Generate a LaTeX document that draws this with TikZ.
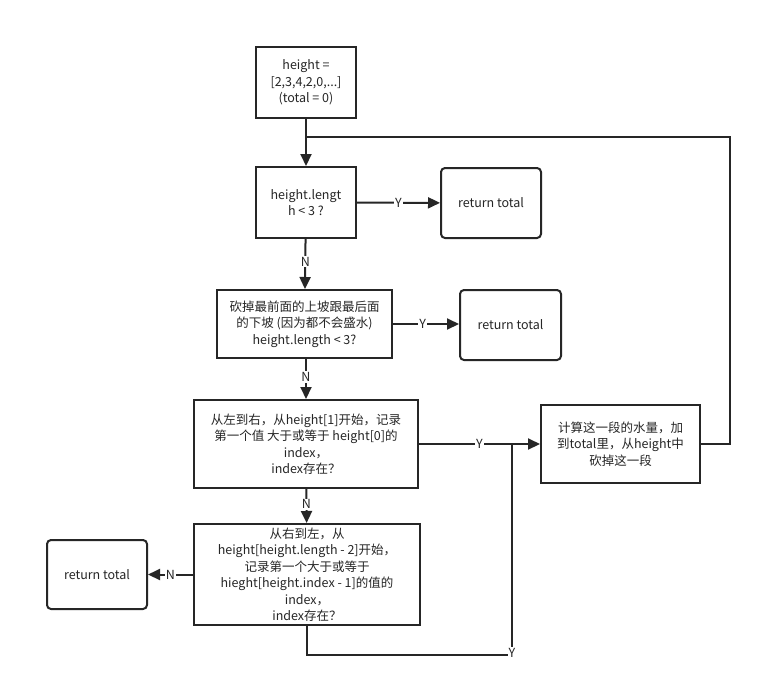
\documentclass[tikz,border=0pt]{standalone}
\usepackage{fontspec}
\setmainfont{Noto Sans CJK SC}
\usetikzlibrary{arrows.meta}
\begin{document}
\begin{tikzpicture}[x=1pt,y=-1pt,
  every node/.style={font=\fontsize{12.5}{16.5}\selectfont, text=black!85},
  box/.style={draw=black!85, line width=2pt, align=center, inner sep=0pt},
  rbox/.style={box, rounded corners=4pt},
  conn/.style={draw=black!85, line width=2pt},
  arr/.style={conn, -{Triangle[length=12pt,width=11pt]}},
  lbl/.style={fill=white, inner sep=1pt, font=\fontsize{12.5}{13}\selectfont}]
\path[use as bounding box] (0,0) rectangle (762,686);
\fill[white] (0,0) rectangle (762,686);

\node[box, minimum width=100pt, minimum height=71pt] (start) at (306,82.5) {height =\\{}[2,3,4,2,0,...]\\(total = 0)};
\node[box, minimum width=100pt, minimum height=71pt] (b2) at (306,202.5) {height.lengt\\h < 3 ?};
\node[rbox, minimum width=100pt, minimum height=70pt] (r1) at (491,203) {return total};
\node[box, minimum width=175pt, minimum height=68pt] (b3) at (304.5,324) {砍掉最前面的上坡跟最后面\\的下坡 (因为都不会盛水)\\height.length < 3?};
\node[rbox, minimum width=101pt, minimum height=70pt] (r2) at (510.5,325) {return total};
\node[box, minimum width=224pt, minimum height=88pt] (b4) at (306,444) {从左到右，从height[1]开始，记录\\第一个值 大于或等于 height[0]的\\index，\\index存在？};
\node[box, minimum width=159pt, minimum height=78pt] (b5) at (620.5,444) {计算这一段的水量，加\\到total里，从height中\\砍掉这一段};
\node[box, minimum width=226pt, minimum height=101pt] (b6) at (307,574.5) {从右到左，从\\height[height.length - 2]开始，\\记录第一个大于或等于\\hieght[height.index - 1]的值的\\index，\\index存在？};
\node[rbox, minimum width=100pt, minimum height=69pt] (r3) at (97,574.5) {return total};

\coordinate (j1) at (306,137);
\coordinate (j2) at (512,444);
\coordinate (c2) at (512,655);

\draw[arr] (start) -- (b2);
\draw[conn] (b5.east) -- ++(29,0) |- (j1);
\draw[arr] (b2) -- node[lbl]{Y} (r1);
\draw[arr] (b2) -- node[lbl, pos=0.45]{N} (b3);
\draw[arr] (b3.east) -- node[lbl, pos=0.45]{Y} (b3.east -| r2.west);
\draw[arr] (b3.south -| b4.north) -- node[lbl, pos=0.45]{N} (b4.north);
\draw[arr] (b4.east) -- node[lbl, pos=0.5]{Y} (b5.west);
\draw[arr] (b4) -- node[lbl, pos=0.45]{N} (b6);
\draw[arr] (b6.west) -- node[lbl, pos=0.5]{N} (r3.east);
\draw[conn] (b6.south) |- (c2) -- (j2);
\node[lbl] at (512,653) {Y};
\end{tikzpicture}
\end{document}
